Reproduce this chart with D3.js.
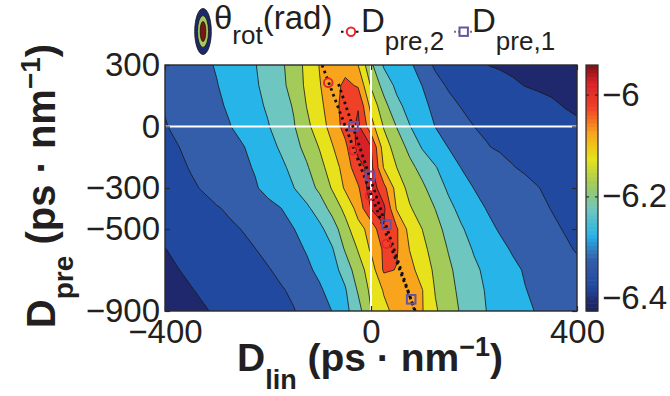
<!DOCTYPE html>
<html>
<head>
<meta charset="utf-8">
<script src="https://cdn.jsdelivr.net/npm/d3@7"></script>
<style>
  body { margin: 0; background: #ffffff; }
  svg { display: block; font-family: "Liberation Sans", Arial, Helvetica, sans-serif; }
  text { white-space: pre; }
</style>
</head>
<body>
<svg id="chart" width="670" height="396"></svg>
<script>
// ---------------- data ----------------
// grid coordinates (D_lin columns, D_pre rows)
const dLinGrid = [-400,-375,-350,-325,-300,-275,-250,-225,-200,-175,-150,-125,-100,-75,-50,-25,0,25,50,75,100,125,150,175,200,225,250,275,300,325,350,375,400];
const dPreGrid = [300,200,100,0,-100,-200,-300,-400,-500,-600,-700,-800,-900];
// theta_rot (rad), one row per D_pre value
const thetaRot = [
 [-6.340,-6.329,-6.319,-6.308,-6.297,-6.282,-6.267,-6.252,-6.231,-6.209,-6.177,-6.137,-6.098,-6.077,-6.067,-6.100,-6.190,-6.256,-6.273,-6.290,-6.329,-6.357,-6.368,-6.379,-6.389,-6.400,-6.404,-6.407,-6.411,-6.414,-6.418,-6.421,-6.425],
 [-6.343,-6.333,-6.323,-6.313,-6.302,-6.288,-6.272,-6.256,-6.235,-6.213,-6.181,-6.140,-6.103,-6.071,-6.039,-6.055,-6.155,-6.219,-6.261,-6.281,-6.301,-6.335,-6.355,-6.363,-6.371,-6.379,-6.387,-6.395,-6.401,-6.405,-6.408,-6.412,-6.415],
 [-6.348,-6.338,-6.328,-6.317,-6.307,-6.295,-6.278,-6.262,-6.244,-6.221,-6.196,-6.149,-6.113,-6.072,-6.028,-6.003,-6.116,-6.182,-6.237,-6.267,-6.289,-6.312,-6.336,-6.352,-6.358,-6.364,-6.370,-6.376,-6.382,-6.388,-6.394,-6.401,-6.405],
 [-6.352,-6.343,-6.333,-6.323,-6.313,-6.302,-6.287,-6.270,-6.253,-6.229,-6.204,-6.163,-6.122,-6.082,-6.030,-5.990,-6.080,-6.154,-6.202,-6.248,-6.275,-6.301,-6.317,-6.334,-6.350,-6.356,-6.361,-6.367,-6.373,-6.378,-6.384,-6.389,-6.395],
 [-6.360,-6.351,-6.342,-6.332,-6.323,-6.313,-6.303,-6.287,-6.266,-6.244,-6.217,-6.185,-6.147,-6.103,-6.062,-5.985,-5.997,-6.126,-6.172,-6.214,-6.255,-6.278,-6.301,-6.316,-6.332,-6.348,-6.355,-6.361,-6.367,-6.372,-6.378,-6.384,-6.390],
 [-6.365,-6.357,-6.348,-6.338,-6.328,-6.318,-6.308,-6.297,-6.279,-6.260,-6.237,-6.206,-6.168,-6.124,-6.081,-6.015,-5.985,-6.104,-6.150,-6.186,-6.217,-6.247,-6.274,-6.301,-6.313,-6.324,-6.336,-6.348,-6.356,-6.363,-6.370,-6.378,-6.385],
 [-6.370,-6.363,-6.355,-6.347,-6.336,-6.326,-6.315,-6.304,-6.288,-6.269,-6.251,-6.222,-6.190,-6.145,-6.093,-6.057,-5.971,-6.034,-6.121,-6.165,-6.191,-6.225,-6.257,-6.280,-6.301,-6.311,-6.320,-6.330,-6.339,-6.349,-6.359,-6.370,-6.380],
 [-6.380,-6.373,-6.367,-6.360,-6.353,-6.345,-6.334,-6.323,-6.312,-6.301,-6.281,-6.260,-6.227,-6.183,-6.136,-6.083,-5.998,-5.990,-6.105,-6.145,-6.174,-6.201,-6.237,-6.263,-6.284,-6.302,-6.312,-6.321,-6.331,-6.341,-6.351,-6.360,-6.370],
 [-6.390,-6.383,-6.376,-6.370,-6.363,-6.356,-6.349,-6.337,-6.325,-6.313,-6.301,-6.282,-6.262,-6.225,-6.169,-6.115,-6.085,-6.003,-6.044,-6.118,-6.151,-6.184,-6.215,-6.245,-6.267,-6.288,-6.304,-6.313,-6.323,-6.333,-6.342,-6.352,-6.360],
 [-6.401,-6.393,-6.386,-6.379,-6.372,-6.365,-6.358,-6.351,-6.339,-6.325,-6.312,-6.297,-6.275,-6.254,-6.195,-6.147,-6.093,-6.042,-6.045,-6.101,-6.137,-6.171,-6.202,-6.229,-6.254,-6.272,-6.289,-6.304,-6.314,-6.324,-6.333,-6.343,-6.353],
 [-6.408,-6.401,-6.394,-6.387,-6.380,-6.373,-6.366,-6.360,-6.353,-6.341,-6.325,-6.309,-6.290,-6.268,-6.231,-6.171,-6.128,-6.042,-6.052,-6.085,-6.121,-6.160,-6.191,-6.217,-6.241,-6.260,-6.276,-6.291,-6.304,-6.313,-6.322,-6.331,-6.340],
 [-6.416,-6.409,-6.402,-6.395,-6.388,-6.382,-6.375,-6.368,-6.361,-6.354,-6.343,-6.325,-6.307,-6.283,-6.255,-6.195,-6.139,-6.096,-6.070,-6.082,-6.099,-6.153,-6.184,-6.211,-6.234,-6.254,-6.269,-6.284,-6.299,-6.308,-6.317,-6.326,-6.335],
 [-6.425,-6.418,-6.410,-6.403,-6.396,-6.388,-6.381,-6.374,-6.366,-6.359,-6.352,-6.336,-6.318,-6.299,-6.264,-6.219,-6.151,-6.112,-6.085,-6.084,-6.098,-6.144,-6.176,-6.205,-6.227,-6.251,-6.264,-6.278,-6.292,-6.304,-6.312,-6.321,-6.330]
];
const levels = [-6.40,-6.35,-6.30,-6.25,-6.20,-6.15,-6.10,-6.05,-6.00];
// markers [D_lin, D_pre]
const dPre2Points = [[-83,214],[-34,-116],[-2,-336],[30,-572]];
const dPre1Points = [[-34,1],[-2,-241],[30,-479],[78,-843]];
// dotted guide lines [D_lin, D_pre]
const dPre2Line = [[-95,300],[86,-900]];
const dPre1Line = [[-63,207],[85,-900]];
// axes
const xTicks = [-400,0,400];
const yTicks = [300,0,-300,-500,-900];
const cTicks = [-6.4,-6.2,-6];
const colorRange = [-6.425,-5.942];

// ---------------- styles ----------------
const bandColors = ["#1f286c","#2249a0","#345ea9","#27b4e8","#6dc6c0","#a2cb5a","#e7e21b","#f8a51d","#ef4128","#d82027"];
const cbarStopsT = [0,0.03,0.10,0.21,0.31,0.41,0.518,0.621,0.725,0.828,0.93,1];
const cbarStopsC = ["#1c215e","#1f286c","#2249a0","#345ea9","#27b4e8","#6dc6c0","#a2cb5a","#e7e21b","#f8a51d","#ef4128","#da2128","#7d1416"];
const inkColor = "#231f20";
const frameColor = "#2a2a2a";

const svg = d3.select("#chart");
const L = 165, R = 577, T = 65, B = 311;
const x = d3.scaleLinear().domain([-400,400]).range([L,R]);
const y = d3.scaleLinear().domain([-900,300]).range([B,T]);

svg.append("defs").append("clipPath").attr("id","plotClip")
  .append("rect").attr("x",L).attr("y",T).attr("width",R-L).attr("height",B-T);

// ---------------- filled contours ----------------
const nx = dLinGrid.length, ny = dPreGrid.length;
const contours = d3.contours().size([nx,ny]).thresholds(levels)(thetaRot.flat());
const gx = d3.scaleLinear().domain([0.5,nx-0.5]).range([x(dLinGrid[0]), x(dLinGrid[nx-1])]);
const gy = d3.scaleLinear().domain([0.5,ny-0.5]).range([y(dPreGrid[0]), y(dPreGrid[ny-1])]);
const path = d3.geoPath(d3.geoTransform({point(a,b){ this.stream.point(gx(a), gy(b)); }}));

const plot = svg.append("g").attr("clip-path","url(#plotClip)");
plot.append("rect").attr("x",L).attr("y",T).attr("width",R-L).attr("height",B-T).attr("fill",bandColors[0]);
plot.selectAll("path.band").data(contours).join("path").attr("class","band")
  .attr("d",path).attr("fill",(d,i)=>bandColors[i+1]);
plot.selectAll("path.iso").data(contours).join("path").attr("class","iso")
  .attr("d",path).attr("fill","none").attr("stroke","#161616").attr("stroke-width",0.8)
  .attr("stroke-linejoin","round");

// zero reference lines
plot.append("line").attr("x1",x(0)).attr("x2",x(0)).attr("y1",y(300)).attr("y2",y(-900))
  .attr("stroke","#ffffff").attr("stroke-width",2);
plot.append("line").attr("x1",x(-400)).attr("x2",x(400)).attr("y1",y(0)).attr("y2",y(0))
  .attr("stroke","#ffffff").attr("stroke-width",2);

// dotted guide lines
const line = d3.line().x(d=>x(d[0])).y(d=>y(d[1]));
[dPre2Line, dPre1Line].forEach(ln => {
  plot.append("path").attr("d",line(ln)).attr("fill","none")
    .attr("stroke","#111111").attr("stroke-width",2.8).attr("stroke-dasharray","2.6,3.6");
});

// markers
plot.selectAll("circle.dp2").data(dPre2Points).join("circle").attr("class","dp2")
  .attr("cx",d=>x(d[0])).attr("cy",d=>y(d[1])).attr("r",4.3)
  .attr("fill","none").attr("stroke","#e8262b").attr("stroke-width",2);
plot.selectAll("rect.dp1").data(dPre1Points).join("rect").attr("class","dp1")
  .attr("x",d=>x(d[0])-4.3).attr("y",d=>y(d[1])-4.3).attr("width",8.6).attr("height",8.6)
  .attr("fill","none").attr("stroke","#6a52a3").attr("stroke-width",2);

// ---------------- axes ----------------
function styleAxis(g, labels) {
  g.attr("font-size",null).attr("font-family",null);
  g.select(".domain").remove();
  g.selectAll(".tick line").attr("stroke",frameColor).attr("stroke-width",1.2);
  if (labels) g.selectAll(".tick text").attr("fill",inkColor).attr("font-size",33);
  else g.selectAll(".tick text").remove();
}
const fmtInt = d3.format("d");
svg.append("g").attr("transform",`translate(${L},0)`)
  .call(d3.axisLeft(y).tickValues(yTicks).tickSize(-5).tickPadding(5).tickFormat(fmtInt))
  .call(g=>styleAxis(g,true));
svg.append("g").attr("transform",`translate(${R},0)`)
  .call(d3.axisRight(y).tickValues(yTicks).tickSize(-5))
  .call(g=>styleAxis(g,false));
svg.append("g").attr("transform",`translate(0,${B})`)
  .call(d3.axisBottom(x).tickValues(xTicks).tickSize(-5).tickPadding(9).tickFormat(fmtInt))
  .call(g=>styleAxis(g,true));
svg.append("g").attr("transform",`translate(0,${T})`)
  .call(d3.axisTop(x).tickValues(xTicks).tickSize(-5))
  .call(g=>styleAxis(g,false));

svg.append("rect").attr("x",L).attr("y",T).attr("width",R-L).attr("height",B-T)
  .attr("fill","none").attr("stroke",frameColor).attr("stroke-width",1.4);

// ---------------- colorbar ----------------
const cbL = 586, cbR = 598;
const cScale = d3.scaleLinear().domain(colorRange).range([B,T]);
const palette = d3.scaleLinear().domain(cbarStopsT).range(cbarStopsC).interpolate(d3.interpolateRgb);
const nSteps = 64;
const stepVals = d3.range(nSteps).map(k => colorRange[0] + (colorRange[1]-colorRange[0])*k/nSteps);
const stepH = (colorRange[1]-colorRange[0])/nSteps;
svg.append("g").selectAll("rect").data(stepVals).join("rect")
  .attr("x",cbL).attr("width",cbR-cbL)
  .attr("y",d=>cScale(d+stepH)).attr("height",d=>cScale(d)-cScale(d+stepH)+0.6)
  .attr("fill",(d,k)=>palette((k+0.5)/nSteps));
const fmtC = d3.format("~g");
svg.append("g").attr("transform",`translate(${cbR},0)`)
  .call(d3.axisRight(cScale).tickValues(cTicks).tickSize(-3).tickPadding(4).tickFormat(fmtC))
  .call(g=>styleAxis(g,true));
svg.append("g").attr("transform",`translate(${cbL},0)`)
  .call(d3.axisLeft(cScale).tickValues(cTicks).tickSize(-3))
  .call(g=>styleAxis(g,false));
svg.append("rect").attr("x",cbL).attr("y",T).attr("width",cbR-cbL).attr("height",B-T)
  .attr("fill","none").attr("stroke",frameColor).attr("stroke-width",1.2);

// ---------------- axis labels ----------------
function richLabel(g, parts) {
  const t = g.append("text").attr("text-anchor","middle").attr("font-weight","bold").attr("fill",inkColor);
  parts.forEach(p => t.append("tspan").attr("font-size",p[1]).attr("dy",p[2]).text(p[0]));
  return t;
}
richLabel(svg.append("g").attr("transform","translate(370,371)"),
  [["D",39,0],["lin",27,18],[" (ps \u00b7 nm",39,-18],["\u22121",27,-15],[")",39,15]]);
richLabel(svg.append("g").attr("transform","translate(55,186) rotate(-90)"),
  [["D",40,0],["pre",28,18],[" (ps \u00b7 nm",40,-18],["\u22121",28,-15],[")",40,15]]);

// ---------------- legend ----------------
const lg = svg.append("g");
[[8.3,23,bandColors[0]],[5.5,16,"#a2cb5a"],[2.8,10,"#7d1416"]].forEach(e => {
  lg.append("ellipse").attr("cx",203).attr("cy",31.5).attr("rx",e[0]).attr("ry",e[1])
    .attr("fill",e[2]).attr("stroke","#111").attr("stroke-width",0.8);
});
function legendText(xp, yp, parts) {
  const t = lg.append("text").attr("x",xp).attr("y",yp).attr("fill",inkColor);
  parts.forEach(p => t.append("tspan").attr("font-size",p[1]).attr("dy",p[2]).text(p[0]));
}
legendText(214, 29, [["\u03b8",33,0],["rot",26,15],["(rad)",33,-15]]);
lg.append("line").attr("x1",341).attr("x2",361).attr("y1",31.7).attr("y2",31.7)
  .attr("stroke","#111").attr("stroke-width",2).attr("stroke-dasharray","2.5,2.5");
lg.append("circle").attr("cx",351).attr("cy",31.7).attr("r",4.2)
  .attr("fill","#ffffff").attr("stroke","#e8262b").attr("stroke-width",2);
legendText(361, 32, [["D",33,0],["pre,2",26,18]]);
lg.append("line").attr("x1",454).attr("x2",474).attr("y1",31.7).attr("y2",31.7)
  .attr("stroke","#777").attr("stroke-width",2).attr("stroke-dasharray","2,2");
lg.append("rect").attr("x",459.5).attr("y",27.5).attr("width",8.4).attr("height",8.4)
  .attr("fill","#ffffff").attr("stroke","#6a52a3").attr("stroke-width",2);
legendText(472, 32, [["D",33,0],["pre,1",26,18]]);
</script>
</body>
</html>
